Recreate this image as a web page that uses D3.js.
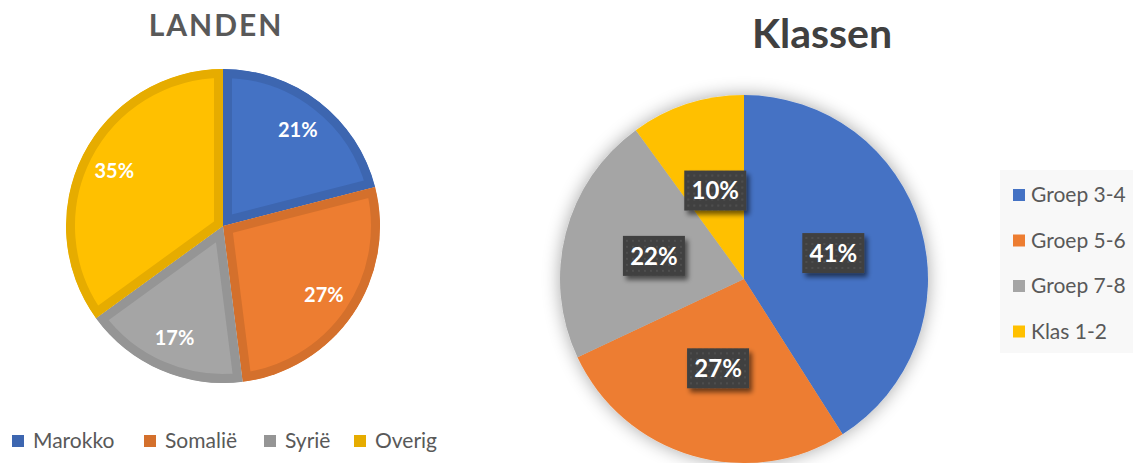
<!DOCTYPE html>
<html>
<head>
    <style>
        body { margin: 0; background: #fff; }
        svg { display: block; font-family: Lato, "Open Sans", sans-serif; }
    </style>
    <script src="https://d3js.org/d3.v7.min.js"></script>
</head>
<body>

<svg width="1133" height="463"></svg>

<script>
    // left chart
    var landen = ["Marokko", "Somalië", "Syrië", "Overig"];
    var landenValues = [21, 27, 17, 35];

    // right chart
    var klassen = ["Groep 3-4", "Groep 5-6", "Groep 7-8", "Klas 1-2"];
    var klassenValues = [41, 27, 22, 10];

    var fills = ["#4472C4", "#ED7D31", "#A5A5A5", "#FFC000"];
    var borders = ["#3D66B0", "#D4702C", "#959595", "#E6AC00"];

    var svg = d3.select("svg");
    var defs = svg.append("defs");

    var pie = d3.pie().sort(null).value(function(d) { return d; });

    // ---------- LANDEN ----------
    var c1 = { x: 223, y: 226, r: 157 };
    var arc1 = d3.arc().innerRadius(0).outerRadius(c1.r);
    var lab1 = d3.arc().innerRadius(122).outerRadius(122);
    var arcs1 = pie(landenValues);

    var g1 = svg.append("g").attr("transform", "translate(" + c1.x + "," + c1.y + ")");

    arcs1.forEach(function(d, i) {
        defs.append("clipPath").attr("id", "clip" + i)
          .append("path").attr("d", arc1(d));
    });

    g1.selectAll("path.slice")
        .data(arcs1)
      .enter().append("path")
        .attr("class", "slice")
        .attr("d", arc1)
        .attr("fill", function(d, i) { return fills[i]; })
        .attr("stroke", function(d, i) { return borders[i]; })
        .attr("stroke-width", 18)
        .attr("stroke-linejoin", "miter")
        .attr("clip-path", function(d, i) { return "url(#clip" + i + ")"; });

    g1.selectAll("text.lab")
        .data(arcs1)
      .enter().append("text")
        .attr("class", "lab")
        .attr("transform", function(d) { return "translate(" + lab1.centroid(d) + ")"; })
        .attr("text-anchor", "middle")
        .attr("dy", "0.36em")
        .attr("fill", "#fff")
        .attr("font-weight", "bold")
        .attr("font-size", 20)
        .text(function(d) { return d.value + "%"; });

    svg.append("text")
        .attr("x", 216).attr("y", 36)
        .attr("text-anchor", "middle")
        .attr("fill", "#595959")
        .attr("font-weight", "bold")
        .attr("font-size", 30)
        .attr("letter-spacing", 2)
        .text("LANDEN");

    var leg1X = [12, 144, 264, 354];
    var leg1 = svg.append("g").selectAll("g")
        .data(landen)
      .enter().append("g")
        .attr("transform", function(d, i) { return "translate(" + leg1X[i] + ",441)"; });
    leg1.append("rect")
        .attr("x", 0).attr("y", -6).attr("width", 12).attr("height", 12)
        .attr("fill", function(d, i) { return borders[i]; });
    leg1.append("text")
        .attr("x", 21).attr("dy", "0.35em")
        .attr("fill", "#595959")
        .attr("font-size", 21)
        .text(function(d) { return d; });

    // ---------- Klassen ----------
    var c2 = { x: 744, y: 279, r: 184 };
    var arc2 = d3.arc().innerRadius(0).outerRadius(c2.r);
    var lab2 = d3.arc().innerRadius(93).outerRadius(93);
    var arcs2 = pie(klassenValues);

    var shadow = defs.append("filter").attr("id", "glow")
        .attr("x", "-20%").attr("y", "-20%").attr("width", "140%").attr("height", "140%");
    shadow.append("feGaussianBlur").attr("in", "SourceAlpha").attr("stdDeviation", 9).attr("result", "b");
    shadow.append("feComponentTransfer").attr("in", "b").attr("result", "s")
      .append("feFuncA").attr("type", "linear").attr("slope", 0.35);
    var m = shadow.append("feMerge");
    m.append("feMergeNode").attr("in", "s");
    m.append("feMergeNode").attr("in", "SourceGraphic");

    var boxShadow = defs.append("filter").attr("id", "boxsh")
        .attr("x", "-30%").attr("y", "-30%").attr("width", "170%").attr("height", "180%");
    boxShadow.append("feGaussianBlur").attr("in", "SourceAlpha").attr("stdDeviation", 2.5).attr("result", "b");
    boxShadow.append("feOffset").attr("in", "b").attr("dx", 3).attr("dy", 4).attr("result", "o");
    boxShadow.append("feComponentTransfer").attr("in", "o").attr("result", "s")
      .append("feFuncA").attr("type", "linear").attr("slope", 0.55);
    var m2 = boxShadow.append("feMerge");
    m2.append("feMergeNode").attr("in", "s");
    m2.append("feMergeNode").attr("in", "SourceGraphic");

    var dots = defs.append("pattern").attr("id", "dots")
        .attr("width", 6).attr("height", 6).attr("patternUnits", "userSpaceOnUse");
    dots.append("rect").attr("width", 6).attr("height", 6).attr("fill", "#404040");
    dots.append("circle").attr("cx", 3).attr("cy", 3).attr("r", 0.9).attr("fill", "#555");

    var g2 = svg.append("g").attr("transform", "translate(" + c2.x + "," + c2.y + ")");

    g2.append("g").attr("filter", "url(#glow)")
        .selectAll("path")
        .data(arcs2)
      .enter().append("path")
        .attr("d", arc2)
        .attr("fill", function(d, i) { return fills[i]; });

    var lb = g2.selectAll("g.lab")
        .data(arcs2)
      .enter().append("g")
        .attr("class", "lab")
        .attr("transform", function(d) { return "translate(" + lab2.centroid(d) + ")"; });
    lb.append("rect")
        .attr("x", -31).attr("y", -20).attr("width", 62).attr("height", 40)
        .attr("fill", "url(#dots)")
        .attr("filter", "url(#boxsh)");
    lb.append("text")
        .attr("text-anchor", "middle")
        .attr("dy", "0.36em")
        .attr("fill", "#fff")
        .attr("font-weight", "bold")
        .attr("font-size", 24)
        .text(function(d) { return d.value + "%"; });

    svg.append("text")
        .attr("x", 822).attr("y", 48)
        .attr("text-anchor", "middle")
        .attr("fill", "#404040")
        .attr("font-weight", "bold")
        .attr("font-size", 41)
        .text("Klassen");

    svg.append("rect")
        .attr("x", 1000).attr("y", 170).attr("width", 133).attr("height", 183)
        .attr("fill", "#F8F8F8");

    var leg2 = svg.append("g").selectAll("g")
        .data(klassen)
      .enter().append("g")
        .attr("transform", function(d, i) { return "translate(1013," + (195 + i * 45.5) + ")"; });
    leg2.append("rect")
        .attr("x", 0).attr("y", -6).attr("width", 12).attr("height", 12)
        .attr("fill", function(d, i) { return fills[i]; });
    leg2.append("text")
        .attr("x", 18).attr("dy", "0.35em")
        .attr("fill", "#595959")
        .attr("font-size", 21)
        .text(function(d) { return d; });
</script>
</body>
</html>
